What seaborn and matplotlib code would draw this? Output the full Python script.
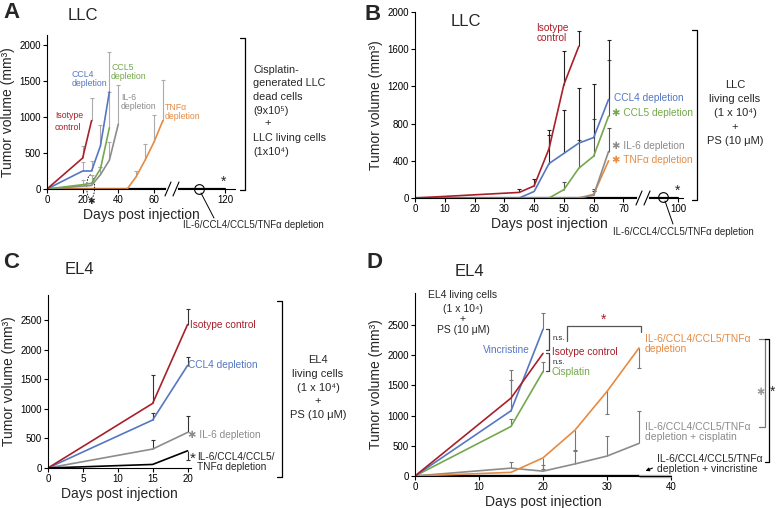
import matplotlib
matplotlib.use('Agg')
import matplotlib.pyplot as plt
import numpy as np
import pandas as pd
import seaborn as sns
from matplotlib.lines import Line2D
from matplotlib.patches import Ellipse, FancyArrowPatch

# ---------------- data (days, tumor volume mm3, error bar tips) ----------------
# A: LLC, cisplatin-generated dead cells + living cells
a_iso_day, a_iso_vol = [0, 20, 25], [0, 430, 950]
a_iso_eday, a_iso_etip = [20, 25], [600, 1265]
a_ccl4_day, a_ccl4_vol = [0, 20, 25, 30, 35], [0, 250, 250, 600, 1350]
a_ccl4_eday, a_ccl4_etip = [20, 25, 30, 35], [380, 390, 890, 1900]
a_ccl5_day, a_ccl5_vol = [0, 20, 25, 30, 35], [0, 60, 80, 280, 850]
a_ccl5_eday, a_ccl5_etip = [20, 25, 30, 35], [130, 200, 300, 1350]
a_il6_day, a_il6_vol = [0, 25, 30, 35, 40], [0, 50, 200, 400, 900]
a_il6_eday, a_il6_etip = [30, 35, 40], [300, 650, 1450]
a_tnf_day, a_tnf_vol = [0, 45, 50, 55, 60, 65], [0, 0, 170, 400, 650, 950]
a_tnf_eday, a_tnf_etip = [50, 55, 60, 65], [250, 620, 1030, 1520]
a_all_day, a_all_vol = [0, 120], [0, 0]

# B: LLC living cells + PS
b_iso_day, b_iso_vol = [0, 35, 40, 45, 50, 55], [0, 60, 130, 530, 1220, 1630]
b_iso_eday, b_iso_etip = [35, 40, 45, 50, 55], [100, 200, 730, 1580, 1800]
b_ccl4_day, b_ccl4_vol = [0, 35, 40, 45, 50, 55, 60, 65], [0, 0, 70, 370, 480, 590, 650, 1060]
b_ccl4_eday, b_ccl4_etip = [45, 50, 55, 60, 65], [680, 950, 1180, 1230, 1700]
b_ccl5_day, b_ccl5_vol = [0, 45, 50, 55, 60, 65], [0, 0, 90, 320, 450, 880]
b_ccl5_eday, b_ccl5_etip = [50, 55, 60, 65], [170, 620, 850, 1480]
b_il6_day, b_il6_vol = [0, 55, 60, 65], [0, 0, 30, 500]
b_il6_eday, b_il6_etip = [60, 65], [100, 750]
b_tnf_day, b_tnf_vol = [0, 55, 60, 65], [0, 0, 40, 400]
b_tnf_eday, b_tnf_etip = [60], [80]
b_all_day, b_all_vol = [0, 100], [0, 0]

# C: EL4 living cells + PS
c_iso_day, c_iso_vol = [0, 15, 20], [0, 1090, 2420]
c_iso_eday, c_iso_etip = [15, 20], [1570, 2690]
c_ccl4_day, c_ccl4_vol = [0, 15, 20], [0, 810, 1730]
c_ccl4_eday, c_ccl4_etip = [15, 20], [930, 1880]
c_il6_day, c_il6_vol = [0, 15, 20], [0, 320, 600]
c_il6_eday, c_il6_etip = [15, 20], [470, 880]
c_all_day, c_all_vol = [0, 15, 20], [0, 60, 290]
c_all_eday, c_all_etip = [20], [140]

# D: EL4 + chemotherapy
d_vin_day, d_vin_vol = [0, 15, 20], [0, 1080, 2430]
d_vin_eday, d_vin_etip = [15, 20], [1750, 2700]
d_iso_day, d_iso_vol = [0, 15, 20], [0, 1290, 2030]
d_iso_eday, d_iso_etip = [15], [1590]
d_cis_day, d_cis_vol = [0, 15, 20], [0, 820, 1730]
d_cis_eday, d_cis_etip = [15, 20], [940, 1880]
d_dep_day, d_dep_vol = [0, 15, 20, 25, 30, 35], [0, 60, 300, 760, 1400, 2120]
d_dep_eday, d_dep_etip = [20, 25, 30, 35], [110, 430, 1030, 1780]
d_depcis_day, d_depcis_vol = [0, 15, 20, 25, 30, 35], [0, 130, 80, 200, 330, 540]
d_depcis_eday, d_depcis_etip = [15, 20, 25, 30, 35], [230, 190, 410, 660, 1080]
d_depvin_day, d_depvin_vol = [0, 35], [0, 0]

RED, BLUE, GREEN = '#A8202A', '#5577C2', '#74A84C'
GREY, ORANGE = '#8C8C8C', '#E58B44'

sns.set_theme(style='ticks')
plt.rcParams['font.family'] = ['Liberation Sans', 'DejaVu Sans']

W, H = 776, 508
fig = plt.figure(figsize=(W / 100, H / 100), dpi=100)


def add_ax(l, t, r, b):
    return fig.add_axes([l / W, 1 - b / H, (r - l) / W, (b - t) / H])


def ftext(x, y, s, **kw):
    kw.setdefault('va', 'center')
    kw.setdefault('fontsize', 7.5)
    fig.text(x / W, 1 - y / H, s, **kw)


def fline(xs, ys, color='black', lw=0.8, **kw):
    fig.add_artist(Line2D([x / W for x in xs], [1 - y / H for y in ys], color=color, lw=lw, **kw))


def bracket(x, top, bot, color='black', tick=5):
    fline([x - tick, x, x, x - tick], [top, top, bot, bot], color=color, lw=0.9)


def brk_marks(x, y):
    fline([x - 4, x + 4], [y, y], color='white', lw=3)
    fline([x - 7, x - 1], [y + 7, y - 7], lw=0.8)
    fline([x + 1, x + 7], [y + 7, y - 7], lw=0.8)


def style(ax):
    sns.despine(ax=ax)
    for s in ['left', 'bottom']:
        ax.spines[s].set_linewidth(0.8)
        ax.spines[s].set_color('black')
    ax.tick_params(direction='out', length=3, width=0.8, labelsize=7, pad=1.5, colors='black')
    ax.set_xlabel('Days post injection', fontsize=10, labelpad=2)
    ax.set_ylabel('Tumor volume (mm³)', fontsize=10, labelpad=3)


def series(ax, day, vol, color, xmap=lambda d: d, lw=1.2, z=2):
    sns.lineplot(x=[xmap(d) for d in day], y=vol, color=color, lw=lw, ax=ax,
                 estimator=None, zorder=z)


def ebar(ax, day, vol, eday, etip, color, xmap=lambda d: d, lw=0.8, ms=3):
    xs = [xmap(d) for d in eday]
    base = [vol[day.index(d)] for d in eday]
    ax.vlines(xs, base, etip, colors=color, lw=lw, zorder=1.5)
    ax.plot(xs, etip, ls='none', marker='_', ms=ms, mew=lw, color=color, zorder=1.5)


def map_a(d):
    return d if d <= 70 else 70 + (d - 70) * 0.6


def map_b(d):
    return d if d <= 75 else 75 + (d - 75) * 0.532


# ---------------- panel A ----------------
axA = add_ax(47, 35, 235, 189)
series(axA, a_all_day, a_all_vol, 'black', map_a, lw=1.6, z=1)
for day, vol, ed, et, col in [(a_tnf_day, a_tnf_vol, a_tnf_eday, a_tnf_etip, ORANGE),
                              (a_il6_day, a_il6_vol, a_il6_eday, a_il6_etip, GREY),
                              (a_ccl5_day, a_ccl5_vol, a_ccl5_eday, a_ccl5_etip, GREEN),
                              (a_ccl4_day, a_ccl4_vol, a_ccl4_eday, a_ccl4_etip, BLUE),
                              (a_iso_day, a_iso_vol, a_iso_eday, a_iso_etip, RED)]:
    ebar(axA, day, vol, ed, et, '#ABABAB', map_a)
    series(axA, day, vol, col, map_a)
axA.set_xlim(0, 105.5)
axA.set_ylim(0, 2140)
axA.set_xticks([map_a(d) for d in [0, 20, 40, 60, 120]], ['0', '20', '40', '60', '120'])
axA.set_yticks([0, 500, 1000, 1500, 2000])
style(axA)
axA.add_patch(Ellipse((24.5, 30), 4.5, 330, fill=False, ls=(0, (2, 1.5)), lw=0.6,
                      color='black', clip_on=False))
brk_marks(172, 189)

ftext(3, 13, 'A', fontsize=16, fontweight='bold')
ftext(68, 15, 'LLC', fontsize=12)
ftext(55, 115, 'Isotype', color=RED, fontsize=6.3)
ftext(55, 127, 'control', color=RED, fontsize=6.3)
ftext(72, 79, 'CCL4\ndepletion', color=BLUE, fontsize=6.3, linespacing=0.95)
ftext(111, 72, 'CCL5\ndepletion', color=GREEN, fontsize=6.3, linespacing=0.95)
ftext(121, 102, 'IL-6\ndepletion', color=GREY, fontsize=6.3, linespacing=0.95)
ftext(165, 112, 'TNFα\ndepletion', color=ORANGE, fontsize=6.3, linespacing=0.95)
ftext(224, 182, '*', fontsize=10, ha='center')
ftext(91, 201, '✱', fontsize=6.5, ha='center')
fig.add_artist(Line2D([199 / W], [1 - 189 / H], marker='o', ms=7, mfc='none', mec='black', mew=0.8))
fline([201, 214], [193, 218], lw=0.7)
ftext(183, 225, 'IL-6/CCL4/CCL5/TNFα depletion', fontsize=7)
bracket(245, 38, 190)
for i, s in enumerate(['Cisplatin-', 'generated LLC', 'dead cells', '(9x10⁵)']):
    ftext(253, 70 + 13.5 * i, s, fontsize=7.8)
ftext(268, 123, '+', fontsize=8, ha='center')
ftext(253, 138, 'LLC living cells', fontsize=7.8)
ftext(253, 152, '(1x10⁴)', fontsize=7.8)

# ---------------- panel B ----------------
axB = add_ax(415, 12, 683, 198)
series(axB, b_all_day, b_all_vol, 'black', map_b, lw=1.6, z=1)
for day, vol, ed, et, col, ecol in [(b_tnf_day, b_tnf_vol, b_tnf_eday, b_tnf_etip, ORANGE, '#222222'),
                                    (b_il6_day, b_il6_vol, b_il6_eday, b_il6_etip, GREY, '#555555'),
                                    (b_ccl5_day, b_ccl5_vol, b_ccl5_eday, b_ccl5_etip, GREEN, '#555555'),
                                    (b_ccl4_day, b_ccl4_vol, b_ccl4_eday, b_ccl4_etip, BLUE, '#222222'),
                                    (b_iso_day, b_iso_vol, b_iso_eday, b_iso_etip, RED, '#222222')]:
    ebar(axB, day, vol, ed, et, ecol, map_b)
    series(axB, day, vol, col, map_b)
axB.set_xlim(0, 90)
axB.set_ylim(0, 2000)
axB.set_xticks([map_b(d) for d in [0, 10, 20, 30, 40, 50, 60, 70, 100]],
               ['0', '10', '20', '30', '40', '50', '60', '70', '100'])
axB.set_yticks([0, 400, 800, 1200, 1600, 2000])
style(axB)
brk_marks(643, 198)

ftext(364, 14, 'B', fontsize=16, fontweight='bold')
ftext(451, 22, 'LLC', fontsize=12)
ftext(552, 33, 'Isotype\ncontrol', color=RED, fontsize=7.3, ha='center', linespacing=0.95)
ftext(614, 98, 'CCL4 depletion', color=BLUE, fontsize=7.3)
ftext(612, 113, '✱ CCL5 depletion', color=GREEN, fontsize=7.3)
ftext(612, 146, '✱ IL-6 depletion', color=GREY, fontsize=7.3)
ftext(612, 160, '✱ TNFα depletion', color=ORANGE, fontsize=7.3)
ftext(678, 191, '*', fontsize=10, ha='center')
fig.add_artist(Line2D([663 / W], [1 - 197 / H], marker='o', ms=7, mfc='none', mec='black', mew=0.8))
fline([665, 673], [201, 224], lw=0.7)
ftext(613, 232, 'IL-6/CCL4/CCL5/TNFα depletion', fontsize=7)
bracket(697, 30, 200)
for i, s in enumerate(['LLC', 'living cells', '(1 x 10⁴)', '+', 'PS (10 μM)']):
    ftext(735, 85 + 14 * i, s, fontsize=8, ha='center')

# ---------------- panel C ----------------
axC = add_ax(48, 295, 191, 468)
for day, vol, ed, et, col in [(c_il6_day, c_il6_vol, c_il6_eday, c_il6_etip, GREY),
                              (c_ccl4_day, c_ccl4_vol, c_ccl4_eday, c_ccl4_etip, BLUE),
                              (c_iso_day, c_iso_vol, c_iso_eday, c_iso_etip, RED),
                              (c_all_day, c_all_vol, c_all_eday, c_all_etip, 'black')]:
    ebar(axC, day, vol, ed, et, '#333333')
    series(axC, day, vol, col)
axC.set_xlim(0, 20.5)
axC.set_ylim(0, 2920)
axC.set_xticks([0, 5, 10, 15, 20])
axC.set_yticks([0, 500, 1000, 1500, 2000, 2500])
style(axC)

ftext(3, 263, 'C', fontsize=16, fontweight='bold')
ftext(65, 270, 'EL4', fontsize=12)
ftext(190, 325, 'Isotype control', color=RED, fontsize=7.3)
ftext(188, 365, 'CCL4 depletion', color=BLUE, fontsize=7.3)
ftext(188, 435, '✱ IL-6 depletion', color=GREY, fontsize=7.3)
ftext(190, 459, '*', fontsize=11)
ftext(197, 462, 'IL-6/CCL4/CCL5/\nTNFα depletion', fontsize=7.3, linespacing=0.95)
bracket(282, 301, 477)
for i, s in enumerate(['EL4', 'living cells', '(1 x 10⁴)', '+', 'PS (10 μM)']):
    ftext(318, 360 + 13.8 * i, s, fontsize=8, ha='center')

# ---------------- panel D ----------------
axD = add_ax(415, 293, 671, 476)
axD.plot(d_depvin_day, d_depvin_vol, color='black', lw=2.4, zorder=1, solid_capstyle='butt')
axD.plot([35, 40], [0, 0], color='#B5B5B5', lw=2.4, zorder=1, solid_capstyle='butt', clip_on=False)
for day, vol, ed, et, col in [(d_depcis_day, d_depcis_vol, d_depcis_eday, d_depcis_etip, GREY),
                              (d_dep_day, d_dep_vol, d_dep_eday, d_dep_etip, ORANGE),
                              (d_cis_day, d_cis_vol, d_cis_eday, d_cis_etip, GREEN),
                              (d_vin_day, d_vin_vol, d_vin_eday, d_vin_etip, BLUE),
                              (d_iso_day, d_iso_vol, d_iso_eday, d_iso_etip, RED)]:
    ebar(axD, day, vol, ed, et, '#777777')
    series(axD, day, vol, col)
axD.set_xlim(0, 40)
axD.set_ylim(0, 3030)
axD.set_xticks([0, 10, 20, 30, 40])
axD.set_yticks([0, 500, 1000, 1500, 2000, 2500])
style(axD)

ftext(366, 263, 'D', fontsize=16, fontweight='bold')
ftext(455, 272, 'EL4', fontsize=12)
ftext(463, 295, 'EL4 living cells', fontsize=7.5, ha='center')
ftext(463, 309, '(1 x 10⁴)', fontsize=7.5, ha='center')
ftext(463, 319, '+', fontsize=7.5, ha='center')
ftext(463, 330, 'PS (10 μM)', fontsize=7.5, ha='center')
ftext(483, 350, 'Vincristine', color=BLUE, fontsize=7.3)
ftext(552, 352, 'Isotype control', color=RED, fontsize=7.3)
ftext(552, 372, 'Cisplatin', color=GREEN, fontsize=7.3)
bracket(549, 329, 350, color='#444444', tick=3)
bracket(549, 353, 371, color='#444444', tick=3)
ftext(553, 339, 'n.s.', fontsize=5.5)
ftext(553, 362, 'n.s.', fontsize=5.5)
fline([567, 567, 641, 641], [341, 326, 326, 332], color='#555555', lw=0.9)
ftext(604, 320, '*', color=RED, fontsize=10, ha='center')
ftext(645, 344, 'IL-6/CCL4/CCL5/TNFα\ndepletion', color=ORANGE, fontsize=7.5, linespacing=0.95)
ftext(645, 432, 'IL-6/CCL4/CCL5/TNFα\ndepletion + cisplatin', color=GREY, fontsize=7.5, linespacing=0.95)
ftext(657, 464, 'IL-6/CCL4/CCL5/TNFα\ndepletion + vincristine', fontsize=7.5, linespacing=0.95)
fig.add_artist(FancyArrowPatch((655 / W, 1 - 467 / H), (643 / W, 1 - 472 / H),
                               transform=fig.transFigure, arrowstyle='-|>',
                               mutation_scale=5, lw=0.8, color='black'))
bracket(765, 339, 427, color='#777777', tick=6)
ftext(760, 392, '✱', color='#999999', fontsize=7, ha='center')
bracket(769, 339, 462, color='black', tick=4)
ftext(773, 392, '*', fontsize=10, ha='center')

fig.savefig('out.png', dpi=100)
